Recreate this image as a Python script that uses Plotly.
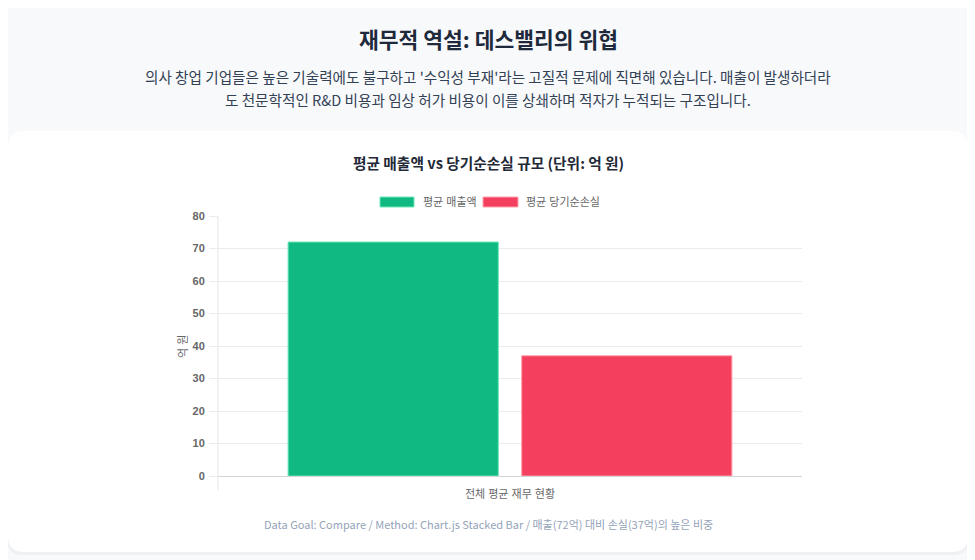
import plotly.graph_objects as go

# 데이터
category = ["전체 평균 재무 현황"]
series_names = ["평균 매출액", "평균 당기순손실"]
revenue = [72]
net_loss = [37]
bar_colors = ["#10b981", "#f43f5e"]
edge_colors = ["#6ee7b7", "#fda4af"]
y_ticks = [0, 10, 20, 30, 40, 50, 60, 70, 80]

W, H = 975, 560
OFF = 8  # 페이지 body 기본 여백
L, R, T, B = 210, 181, 208, 92
PW, PH = W - L - R, H - T - B

KR = "Noto Sans CJK KR"
CHART_FONT = "Liberation Sans, Arial, Noto Sans CJK KR"


def px_x(x):
    # 화면 픽셀 -> paper 좌표
    return (x - OFF - L) / PW


def px_y(y):
    return 1 - (y - OFF - T) / PH


def rounded_rect(x0, y0, x1, y1, r):
    # 둥근 모서리 사각형 (paper 좌표)
    rx, ry = r / PW, r / PH
    a, b, c, d = px_x(x0), px_y(y1), px_x(x1), px_y(y0)
    return (f"M {a+rx},{b} L {c-rx},{b} Q {c},{b} {c},{b+ry} "
            f"L {c},{d-ry} Q {c},{d} {c-rx},{d} L {a+rx},{d} "
            f"Q {a},{d} {a},{d-ry} L {a},{b+ry} Q {a},{b} {a+rx},{b} Z")


fig = go.Figure()
fig.add_trace(go.Bar(x=category, y=revenue, name=series_names[0],
                     marker=dict(color=bar_colors[0], line=dict(color=edge_colors[0], width=1))))
fig.add_trace(go.Bar(x=category, y=net_loss, name=series_names[1],
                     marker=dict(color=bar_colors[1], line=dict(color=edge_colors[1], width=1))))

shapes = [
    # 카드 그림자
    dict(type="path", xref="paper", yref="paper", layer="below",
         path=rounded_rect(7, 132, 969, 555, 16), fillcolor="#eef0f4", line=dict(width=0)),
    # 카드
    dict(type="path", xref="paper", yref="paper", layer="below",
         path=rounded_rect(8, 131, 968, 552, 16), fillcolor="white", line=dict(width=0)),
    # 왼쪽 축선 (눈금 아래로 연장)
    dict(type="line", xref="paper", yref="paper", x0=0, x1=0, y0=px_y(490), y1=1,
         line=dict(color="#e5e5e5", width=1)),
]

legend_items = [(380, 414, 421), (483, 518, 524)]
for (bx0, bx1, tx), name, col, edge in zip(legend_items, series_names, bar_colors, edge_colors):
    shapes.append(dict(type="rect", xref="paper", yref="paper",
                       x0=px_x(bx0), x1=px_x(bx1), y0=px_y(207), y1=px_y(197),
                       fillcolor=col, line=dict(color=edge, width=1)))

annotations = [
    dict(text="<b>재무적 역설: 데스밸리의 위협</b>", x=px_x(488), y=px_y(38),
         font=dict(family=KR, size=21.5, color="#1e293b")),
    dict(text="의사 창업 기업들은 높은 기술력에도 불구하고 '수익성 부재'라는 고질적 문제에 직면해 있습니다. 매출이 발생하더라",
         x=px_x(488), y=px_y(76), font=dict(family=KR, size=14.6, color="#334155")),
    dict(text="도 천문학적인 R&D 비용과 임상 허가 비용이 이를 상쇄하며 적자가 누적되는 구조입니다.",
         x=px_x(488), y=px_y(99), font=dict(family=KR, size=14.6, color="#334155")),
    dict(text="<b>평균 매출액 vs 당기순손실 규모 (단위: 억 원)</b>", x=px_x(488), y=px_y(162),
         font=dict(family=KR, size=14.7, color="#1f2937")),
    dict(text="Data Goal: Compare / Method: Chart.js Stacked Bar / 매출(72억) 대비 손실(37억)의 높은 비중",
         x=px_x(488), y=px_y(524), font=dict(family=KR, size=11, color="#94a3b8")),
    dict(text="억 원", x=px_x(183), y=px_y(347), textangle=-90,
         font=dict(family=CHART_FONT, size=11, color="#666666")),
]
for (bx0, bx1, tx), name in zip(legend_items, series_names):
    annotations.append(dict(text=name, x=px_x(tx), y=px_y(202), xanchor="left",
                            font=dict(family=CHART_FONT, size=11, color="#666666")))
for a in annotations:
    a.setdefault("xanchor", "center")
    a.update(xref="paper", yref="paper", yanchor="middle", showarrow=False)

fig.update_layout(
    width=W, height=H,
    margin=dict(l=L, r=R, t=T, b=B),
    paper_bgcolor="#f8f9fb", plot_bgcolor="white",
    barmode="group", bargap=0.2, bargroupgap=0.1,
    showlegend=False,
    shapes=shapes, annotations=annotations,
    font=dict(family=CHART_FONT, color="#666666"),
)
fig.update_xaxes(showgrid=False, showline=True, linecolor="#d4d4d4", linewidth=1,
                 ticks="", ticklabelstandoff=8,
                 tickfont=dict(family=CHART_FONT, size=11, color="#666666"))
fig.update_yaxes(range=[0, 80], tickvals=y_ticks, ticktext=[f"<b>{v}</b>" for v in y_ticks],
                 showgrid=True, gridcolor="#ebebeb", gridwidth=1, zeroline=False,
                 ticks="outside", ticklen=8, tickcolor="#ebebeb", ticklabelstandoff=2,
                 tickfont=dict(family=CHART_FONT, size=11, color="#666666"))

fig.write_html("out.html")
